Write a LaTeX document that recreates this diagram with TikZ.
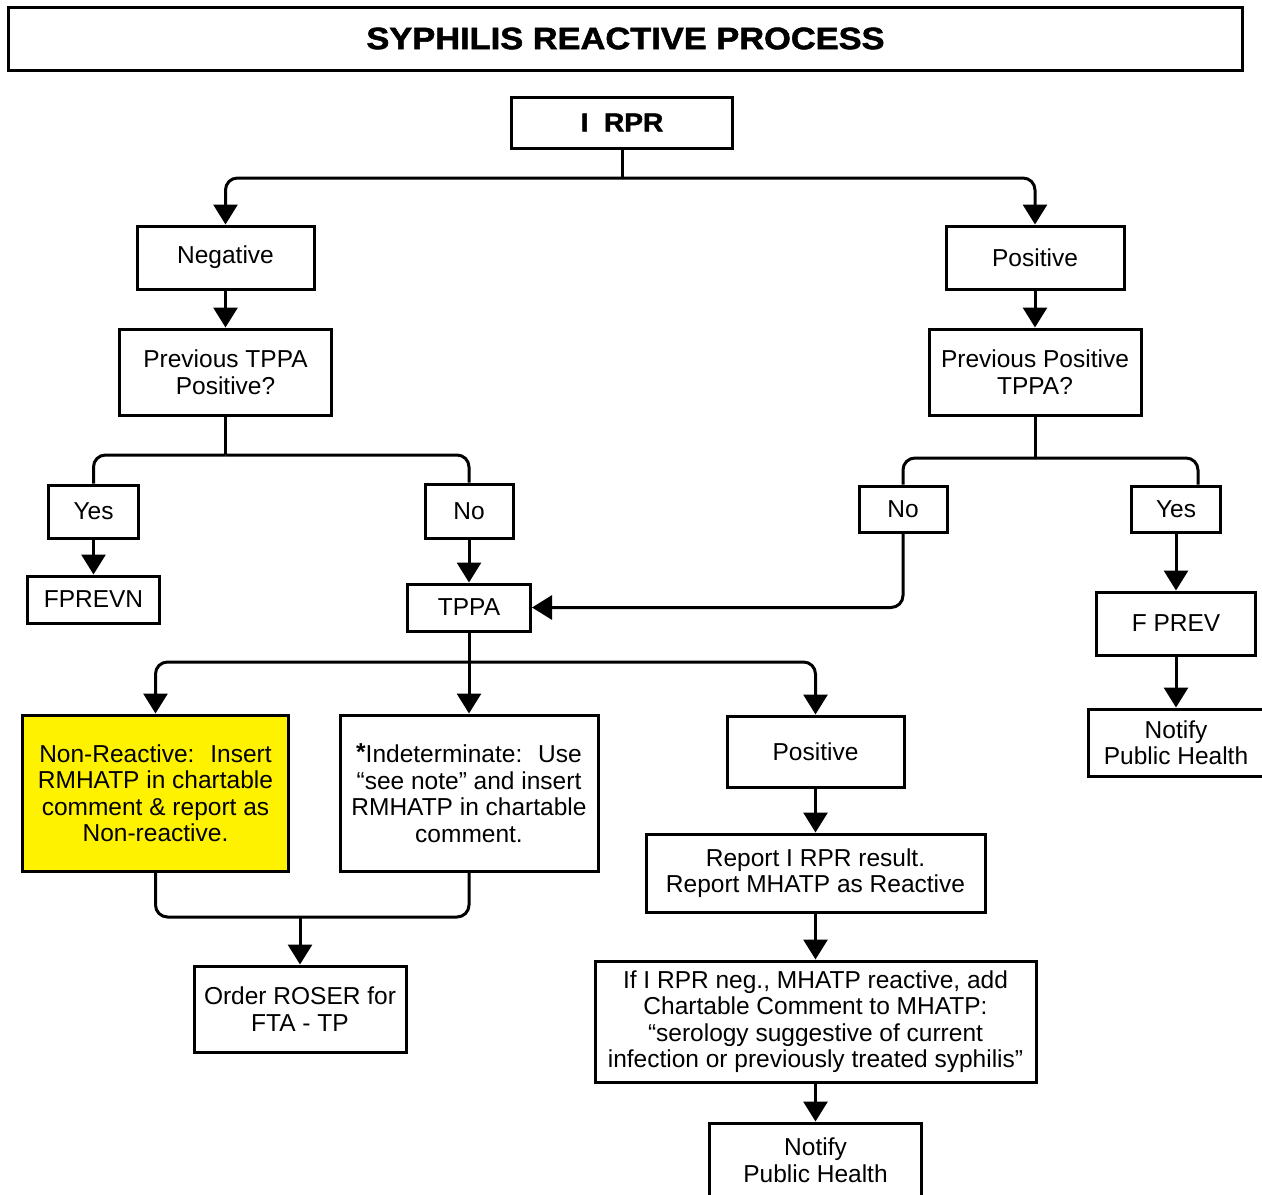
\documentclass[tikz,border=0pt]{standalone}
\usepackage{fontspec}
\setmainfont{Liberation Sans}
\newfontfamily\heavyfont[FakeBold=1.6]{Liberation Sans Bold}
\usetikzlibrary{arrows.meta}
\begin{document}
\begin{tikzpicture}[x=1bp,y=-1bp,>={Triangle[length=20bp,width=24bp]},line join=miter,
  box/.style={draw,line width=3bp,inner sep=0pt,align=center,font=\fontsize{24.5bp}{26.5bp}\selectfont},
  edge/.style={line width=3bp,rounded corners=12bp},]
\useasboundingbox (0,0) rectangle (1262,1195);
\clip (0,0) rectangle (1262,1195);
%%
  % Node: title
  \node[box,minimum width=1233bp,minimum height=63bp] (title) at (625.5,38.5)
    {\heavyfont\fontsize{31bp}{34bp}\selectfont\scalebox{1.11}[1]{SYPHILIS REACTIVE PROCESS}};
  % Node: irpr
  \node[box,minimum width=221bp,minimum height=51bp] (irpr) at (622,122.5)
    {\heavyfont\fontsize{26bp}{28bp}\selectfont\scalebox{1.08}[1]{I~~RPR}};
  % Node: neg
  \node[box,minimum width=177bp,minimum height=63bp] (neg) at (225.5,257.5) {Negative};
  % Node: pos
  \node[box,minimum width=178bp,minimum height=63bp] (pos) at (1035,257.5) {Positive};
  % Node: prevneg
  \node[box,minimum width=212bp,minimum height=86bp] (prevneg) at (225.5,372) {Previous TPPA\\Positive?};
  % Node: prevpos
  \node[box,minimum width=212bp,minimum height=86bp] (prevpos) at (1035,372) {Previous Positive\\TPPA?};
  % Node: yesl
  \node[box,minimum width=89bp,minimum height=53bp] (yesl) at (93.5,511.5) {Yes};
  % Node: nol
  \node[box,minimum width=88bp,minimum height=54bp] (nol) at (469,511) {No};
  % Node: fprevn
  \node[box,minimum width=132bp,minimum height=47bp] (fprevn) at (93.5,599.5) {FPREVN};
  % Node: tppa
  \node[box,minimum width=123bp,minimum height=47bp] (tppa) at (469,607.5) {TPPA};
  % Node: nor
  \node[box,minimum width=88bp,minimum height=46bp] (nor) at (903,509) {No};
  % Node: yesr
  \node[box,minimum width=89bp,minimum height=46bp] (yesr) at (1176,509) {Yes};
  % Node: fprev
  \node[box,minimum width=159bp,minimum height=63bp] (fprev) at (1176,623.5) {F PREV};
  % Node: notifyr
  \node[box,minimum width=176bp,minimum height=67bp] (notifyr) at (1176,742.5) {Notify\\Public Health};
  % Node: nonreac
  \node[box,fill=yellow,minimum width=265bp,minimum height=156bp] (nonreac) at (155.5,793)
    {Non-Reactive:~ Insert\\RMHATP in chartable\\comment \& report as\\Non-reactive.};
  % Node: indet
  \node[box,minimum width=258bp,minimum height=156bp] (indet) at (469,793)
    {\raisebox{2bp}{\bfseries*}Indeterminate:~ Use\\“see note” and insert\\RMHATP in chartable\\comment.};
  % Node: posm
  \node[box,minimum width=177bp,minimum height=71bp] (posm) at (815.5,751.5) {Positive};
  % Node: report
  \node[box,minimum width=339bp,minimum height=78bp] (report) at (815.5,873)
    {Report I RPR result.\\ Report MHATP as Reactive};
  % Node: comment
  \node[box,minimum width=441bp,minimum height=121bp] (comment) at (815.5,1021.5)
    {If I RPR neg., MHATP reactive, add\\Chartable Comment to MHATP:\\“serology suggestive of current\\infection or previously treated syphilis”};
  % Node: notifyb
  \node[box,minimum width=212bp,minimum height=74bp] (notifyb) at (815.5,1160) {Notify\\Public Health};
  % Node: order
  \node[box,minimum width=212bp,minimum height=86bp] (order) at (300,1009) {Order ROSER for\\FTA - TP};
%
  \coordinate (j1) at (622,178);
  \coordinate (j2) at (225.5,455);
  \coordinate (j3) at (1035,458);
  \coordinate (j4) at (469,662);
  \coordinate (j5) at (300,917);
  % Edge: irpr -> neg, pos
  \draw[edge] (irpr.south) -- (j1);
  \draw[edge,->] (j1) -| (neg.north);
  \draw[edge,->] (j1) -| (pos.north);
  % Edge: neg -> prevneg, pos -> prevpos
  \draw[edge,->] (neg) -- (prevneg);
  \draw[edge,->] (pos) -- (prevpos);
  % Edge: prevneg -> yesl, nol
  \draw[edge] (prevneg.south) -- (j2);
  \draw[edge] (j2) -| (yesl.north);
  \draw[edge] (j2) -| (nol.north);
  \draw[edge,->] (yesl) -- (fprevn);
  \draw[edge,->] (nol) -- (tppa);
  % Edge: prevpos -> nor, yesr
  \draw[edge] (prevpos.south) -- (j3);
  \draw[edge] (j3) -| (nor.north);
  \draw[edge] (j3) -| ([xshift=22bp]yesr.north);
  \draw[edge,->] (nor.south) |- (tppa.east);
  \draw[edge,->] (yesr) -- (fprev);
  \draw[edge,->] (fprev) -- (notifyr);
  % Edge: tppa -> nonreac, indet, posm
  \draw[edge] (tppa.south) -- (j4);
  \draw[edge,->] (j4) -| (nonreac.north);
  \draw[edge,->] (j4) -- (indet.north);
  \draw[edge,->] (j4) -| (posm.north);
  % Edge: nonreac, indet -> order
  \draw[edge] (nonreac.south) |- (j5) -| (indet.south);
  \draw[edge,->] (j5) -- (order.north);
  % Edge: posm -> report -> comment -> notifyb
  \draw[edge,->] (posm) -- (report);
  \draw[edge,->] (report) -- (comment);
  \draw[edge,->] (comment) -- (notifyb);
%
\end{tikzpicture}
\end{document}
